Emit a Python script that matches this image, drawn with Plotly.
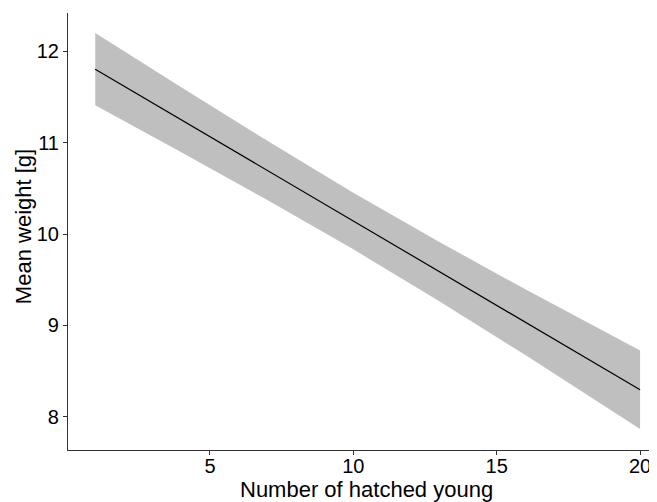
import plotly.graph_objects as go

hatched = [1, 4, 7, 10, 13, 16, 20]
fit = [11.805, 11.251, 10.697, 10.142, 9.588, 9.034, 8.295]
upper = [12.20, 11.606, 11.022, 10.452, 9.913, 9.394, 8.725]
lower = [11.41, 10.896, 10.372, 9.832, 9.263, 8.674, 7.865]

x_ticks = [5, 10, 15, 20]
y_ticks = [8, 9, 10, 11, 12]

FONT = "Liberation Sans, Arial, sans-serif"

fig = go.Figure()
fig.add_trace(go.Scatter(x=hatched, y=lower, mode="lines", line=dict(width=0),
                         hoverinfo="skip", showlegend=False))
fig.add_trace(go.Scatter(x=hatched, y=upper, mode="lines", line=dict(width=0),
                         fill="tonexty", fillcolor="rgb(191,191,191)",
                         hoverinfo="skip", showlegend=False))
fig.add_trace(go.Scatter(x=hatched, y=fit, mode="lines",
                         line=dict(color="black", width=1.2), showlegend=False))

# page body has an 8px default margin, so the figure is sized to the visible area
fig.update_layout(
    width=649, height=494,
    margin=dict(l=60, r=0, t=5, b=52),
    plot_bgcolor="white", paper_bgcolor="white",
    font=dict(family=FONT, color="black"),
    showlegend=False,
)
fig.update_xaxes(
    range=[0.05, 20.59], tickvals=x_ticks, ticks="outside", ticklen=4,
    tickcolor="#333333", tickwidth=1, showline=True, linecolor="#333333",
    linewidth=1.2, showgrid=False, zeroline=False, automargin=False,
    tickfont=dict(size=20, color="black"), ticklabelstandoff=-6,
)
fig.update_yaxes(
    range=[7.635, 12.42], tickvals=y_ticks, ticks="outside", ticklen=4,
    tickcolor="#333333", tickwidth=1, showline=True, linecolor="#333333",
    linewidth=1.2, showgrid=False, zeroline=False, automargin=False,
    tickfont=dict(size=20, color="black"),
)

fig.add_annotation(text="Number of hatched young", xref="paper", yref="paper",
                   x=0.507, y=-0.091, xanchor="center", yanchor="middle",
                   showarrow=False, font=dict(size=22, color="black"))
fig.add_annotation(text="Mean weight [g]", xref="paper", yref="paper",
                   x=-0.0764, y=0.51, xanchor="center", yanchor="middle",
                   textangle=-90, showarrow=False, font=dict(size=22, color="black"))

fig.write_html("out.html")
